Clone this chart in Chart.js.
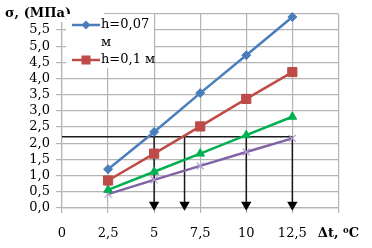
<!DOCTYPE html>
<html lang="ru">
  <head>
    <meta charset="UTF-8" />
    <title>σ от Δt</title>
    <script src="https://cdn.jsdelivr.net/npm/chart.js@4.4.1/dist/chart.umd.min.js"></script>
    <style>
      html, body { margin: 0; padding: 0; background: #ffffff; }
    </style>
  </head>
  <body>
    <canvas id="stressChart" width="372" height="248"></canvas>

    <script>
      // temperature difference, °C
      const dt = [2.5, 5, 7.5, 10, 12.5];

      // stress, MPa
      const h007 = [1.2, 2.35, 3.55, 4.72, 5.9];
      const h01 = [0.85, 1.68, 2.52, 3.37, 4.2];
      const series3 = [0.56, 1.12, 1.68, 2.25, 2.82];
      const series4 = [0.43, 0.87, 1.3, 1.73, 2.15];

      const seriesNames = ["h=0,07 м", "h=0,1 м", "", ""];

      // level line and the arrows dropped from it
      const sigmaLevel = 2.2;
      const arrowX = [5, 6.65, 10, 12.5];
      const arrowEnd = 0.1;

      const BLUE = "#4a7ebb";
      const RED = "#be4b48";
      const GREEN = "#00b050";
      const PURPLE = "#7f63a6";
      const GRID = "#b4b4b4";
      const FONT = "'DejaVu Serif', serif";

      const toPoints = (ys) => dt.map((x, i) => ({ x: x, y: ys[i] }));
      const comma = (v, d) => v.toFixed(d).replace(".", ",");

      function seriesSet(label, ys, color, style, radius, pointColor) {
        return {
          label: label,
          data: toPoints(ys),
          showLine: true,
          borderColor: color,
          backgroundColor: pointColor || color,
          borderWidth: 2.5,
          pointStyle: style,
          pointRadius: radius,
          pointBorderColor: pointColor || color,
          pointBackgroundColor: pointColor || color,
          pointBorderWidth: style === "crossRot" ? 1.2 : 1,
          clip: false,
          order: 1,
        };
      }

      const datasets = [
        seriesSet(seriesNames[0], h007, BLUE, "rectRot", 4.5),
        seriesSet(seriesNames[1], h01, RED, "rect", 6.5),
        seriesSet(seriesNames[2], series3, GREEN, "triangle", 5),
        seriesSet(seriesNames[3], series4, PURPLE, "crossRot", 5, "#b3a2d4"),
        {
          label: "level",
          data: [
            { x: 0, y: sigmaLevel },
            { x: 12.5, y: sigmaLevel },
          ],
          showLine: true,
          borderColor: "#1a1a1a",
          borderWidth: 1.5,
          pointRadius: 0,
          order: 2,
        },
      ];

      // downward arrows
      arrowX.forEach((x) => {
        datasets.push({
          label: "arrow",
          data: [
            { x: x, y: sigmaLevel },
            { x: x, y: arrowEnd },
          ],
          showLine: true,
          borderColor: "#1a1a1a",
          borderWidth: 1.5,
          pointStyle: "triangle",
          rotation: 180,
          pointRadius: [0, 4.5],
          pointBackgroundColor: "#000000",
          pointBorderColor: "#000000",
          clip: false,
          order: 2,
        });
      });

      const ctx = document.getElementById("stressChart").getContext("2d");

      // axis title and the legend box drawn on top of the plot
      const overlay = {
        id: "overlay",
        afterDraw(chart) {
          const c = chart.ctx;
          c.save();
          c.fillStyle = "#ffffff";
          c.fillRect(0, 0, 104, 22);
          c.fillStyle = "#000000";
          c.font = "bold 13px " + FONT;
          c.textBaseline = "middle";
          c.fillText("σ, (МПа)", 5, 14);

          c.fillStyle = "#ffffff";
          c.fillRect(66, 14, 88, 54);

          // entry 1
          c.strokeStyle = BLUE;
          c.lineWidth = 2.5;
          c.beginPath();
          c.moveTo(72, 25);
          c.lineTo(100, 25);
          c.stroke();
          c.fillStyle = BLUE;
          c.beginPath();
          c.moveTo(86, 20.5);
          c.lineTo(90.5, 25);
          c.lineTo(86, 29.5);
          c.lineTo(81.5, 25);
          c.closePath();
          c.fill();

          // entry 2
          c.strokeStyle = RED;
          c.beginPath();
          c.moveTo(72, 60);
          c.lineTo(100, 60);
          c.stroke();
          c.fillStyle = RED;
          c.fillRect(81.5, 55.5, 9, 9);

          c.fillStyle = "#000000";
          c.font = "13px " + FONT;
          c.fillText("h=0,07", 101, 25);
          c.fillText("м", 101, 43);
          c.fillText(seriesNames[1], 101, 60);
          c.restore();
        },
      };

      new Chart(ctx, {
        type: "scatter",
        data: { datasets: datasets },
        options: {
          responsive: false,
          animation: false,
          layout: { padding: { top: 9, right: 32, left: 0, bottom: 0 } },
          plugins: {
            legend: { display: false },
            tooltip: { enabled: false },
          },
          scales: {
            x: {
              type: "linear",
              min: 0,
              max: 15,
              afterFit: (s) => { s.height = 40; },
              ticks: {
                stepSize: 2.5,
                autoSkip: false,
                color: "#000000",
                padding: 13,
                maxRotation: 0,
                font: (c) =>
                  c.tick && c.tick.value === 15
                    ? { family: FONT, size: 13, weight: "bold" }
                    : { family: FONT, size: 13 },
                callback: (v) => {
                  if (v === 15) return "Δt, \u2070C";
                  return Number.isInteger(v) ? String(v) : comma(v, 1);
                },
              },
              grid: { color: GRID, lineWidth: 1.2, tickLength: 5, tickColor: GRID },
              border: { color: GRID, width: 1.2 },
            },
            y: {
              type: "linear",
              min: 0,
              max: 6,
              afterFit: (s) => { s.width = 62; },
              ticks: {
                stepSize: 0.5,
                autoSkip: false,
                color: "#000000",
                padding: 6,
                font: { family: FONT, size: 13 },
                callback: (v) => (v === 6 ? "" : comma(v, 1)),
              },
              grid: { color: GRID, lineWidth: 1.2, tickLength: 6, tickColor: GRID },
              border: { color: GRID, width: 1.2 },
            },
          },
        },
        plugins: [overlay],
      });
    </script>
  </body>
</html>
